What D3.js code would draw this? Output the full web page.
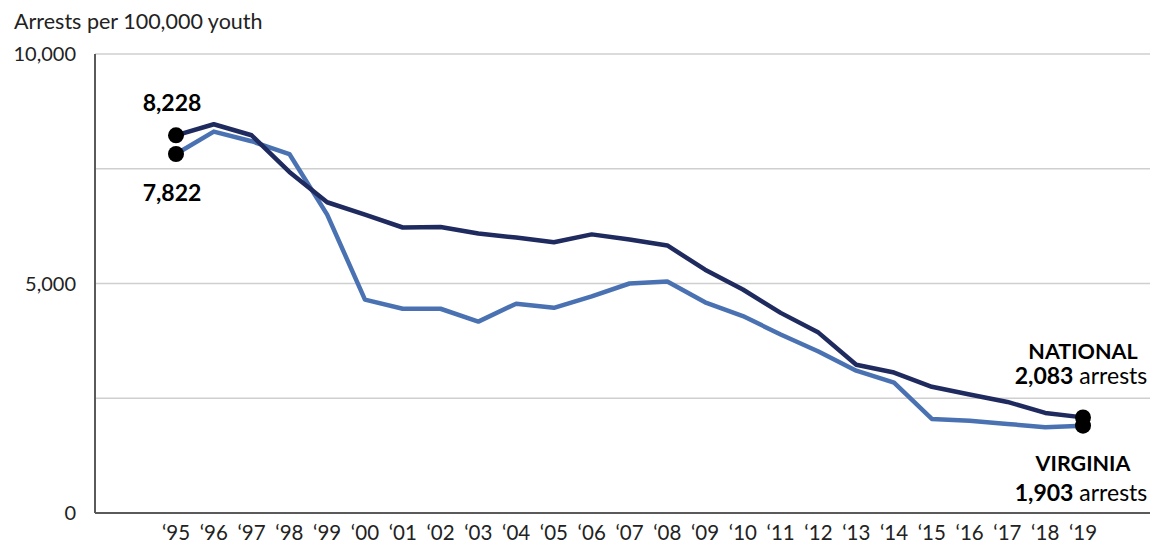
<!DOCTYPE html>
<html>
<head>
<meta charset="utf-8">
<script src="https://cdn.jsdelivr.net/npm/d3@7"></script>
<style>
  body { margin: 0; background: #fff; }
  svg { font-family: Lato, "Open Sans", sans-serif; }
</style>
</head>
<body>
<svg id="chart" width="1150" height="546"></svg>
<script>
// data
const years = ["95", "96", "97", "98", "99", "00", "01", "02", "03", "04", "05", "06",
    "07", "08", "09", "10", "11", "12", "13", "14", "15", "16", "17", "18", "19"];
const national = [8228, 8470, 8230, 7430, 6770, 6500, 6220, 6230, 6090, 6000, 5900, 6070,
    5960, 5830, 5300, 4870, 4360, 3930, 3230, 3060, 2750, 2580, 2420, 2180, 2083];
const virginia = [7822, 8310, 8100, 7820, 6500, 4650, 4450, 4450, 4170, 4560, 4470, 4720,
    5000, 5045, 4590, 4290, 3890, 3520, 3100, 2840, 2050, 2010, 1940, 1870, 1903];
const yTicks = [0, 2500, 5000, 7500, 10000];
const yTickLabels = ["0", "", "5,000", "", "10,000"];

const svg = d3.select("#chart");
const plotLeft = 95, plotRight = 1150, plotTop = 54, plotBottom = 513;

const x = d3.scalePoint().domain(years).range([176, 1083]);
const y = d3.scaleLinear().domain([0, 10000]).range([plotBottom, plotTop]);

// gridlines
svg.append("g")
    .selectAll("line")
    .data(yTicks.filter(d => d > 0))
    .enter().append("line")
    .attr("x1", plotLeft).attr("x2", plotRight)
    .attr("y1", d => y(d)).attr("y2", d => y(d))
    .attr("stroke", "#cfcfcf")
    .attr("stroke-width", 1.5);

// axes lines
svg.append("line")
    .attr("x1", plotLeft).attr("x2", plotLeft)
    .attr("y1", plotTop).attr("y2", plotBottom)
    .attr("stroke", "#5a5a5a").attr("stroke-width", 2);
svg.append("line")
    .attr("x1", plotLeft).attr("x2", plotRight)
    .attr("y1", plotBottom).attr("y2", plotBottom)
    .attr("stroke", "#5a5a5a").attr("stroke-width", 2);

// y tick labels
svg.append("g")
    .selectAll("text")
    .data(yTicks)
    .enter().append("text")
    .attr("x", 76)
    .attr("y", d => y(d) + 7)
    .attr("text-anchor", "end")
    .attr("font-size", "20px")
    .attr("fill", "#222")
    .text((d, i) => yTickLabels[i]);

// x tick labels
svg.append("g")
    .selectAll("text")
    .data(years)
    .enter().append("text")
    .attr("x", d => x(d))
    .attr("y", 540)
    .attr("text-anchor", "middle")
    .attr("font-size", "20.5px")
    .attr("fill", "#222")
    .text(d => "\u2018" + d);

// axis title
svg.append("text")
    .attr("x", 14).attr("y", 29)
    .attr("font-size", "21.5px")
    .attr("fill", "#222")
    .text("Arrests per 100,000 youth");

const line = d3.line()
    .x((d, i) => x(years[i]))
    .y(d => y(d));

svg.append("path")
    .datum(virginia)
    .attr("fill", "none")
    .attr("stroke", "#4a72b2")
    .attr("stroke-width", 4.5)
    .attr("stroke-linejoin", "round")
    .attr("d", line);

svg.append("path")
    .datum(national)
    .attr("fill", "none")
    .attr("stroke", "#1f2a5e")
    .attr("stroke-width", 4.5)
    .attr("stroke-linejoin", "round")
    .attr("d", line);

// end dots
const first = years[0], last = years[years.length - 1];
const dots = [
    [first, national[0]], [first, virginia[0]],
    [last, national[national.length - 1]], [last, virginia[virginia.length - 1]]
];
svg.append("g")
    .selectAll("circle")
    .data(dots)
    .enter().append("circle")
    .attr("cx", d => x(d[0]))
    .attr("cy", d => y(d[1]))
    .attr("r", 8)
    .attr("fill", "#000");

// start labels
const fmt = d3.format(",");
svg.append("text")
    .attr("x", x(first) - 4).attr("y", 111)
    .attr("text-anchor", "middle")
    .attr("font-size", "23px").attr("font-weight", "bold")
    .text(fmt(national[0]));
svg.append("text")
    .attr("x", x(first) - 4).attr("y", 201)
    .attr("text-anchor", "middle")
    .attr("font-size", "23px").attr("font-weight", "bold")
    .text(fmt(virginia[0]));

// end labels
function endLabel(name, value, y1, y2) {
    svg.append("text")
        .attr("x", x(last)).attr("y", y1)
        .attr("text-anchor", "middle")
        .attr("font-size", "21.5px").attr("font-weight", "bold")
        .text(name);
    const t = svg.append("text")
        .attr("x", x(last) - 2).attr("y", y2)
        .attr("text-anchor", "middle")
        .attr("font-size", "23px");
    t.append("tspan").attr("font-weight", "bold").text(fmt(value));
    t.append("tspan").text(" arrests");
}
endLabel("NATIONAL", national[national.length - 1], 359, 384);
endLabel("VIRGINIA", virginia[virginia.length - 1], 471, 501);
</script>
</body>
</html>
